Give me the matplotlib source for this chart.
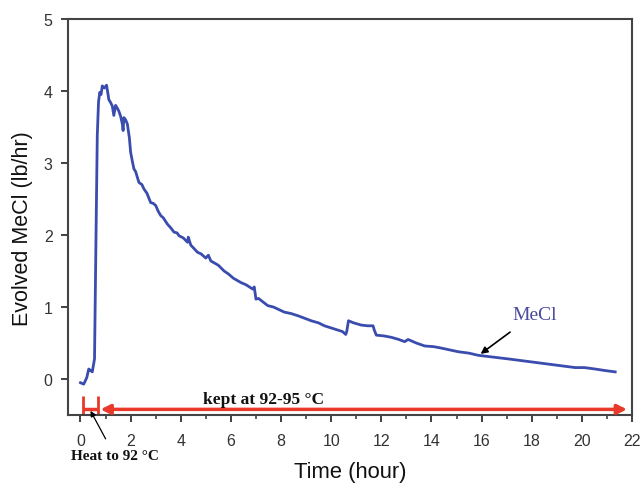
import matplotlib
matplotlib.use("Agg")
import matplotlib.pyplot as plt
from matplotlib.ticker import MultipleLocator

# ---- data ----
time_h = [0.00, 0.13, 0.25, 0.33, 0.40, 0.47, 0.56, 0.62, 0.67, 0.72, 0.77, 0.82, 0.87, 0.95,
          1.04, 1.10, 1.13, 1.20, 1.27, 1.33, 1.40, 1.47, 1.53, 1.60, 1.67, 1.70, 1.73, 1.80,
          1.87, 1.95, 2.00, 2.07, 2.13, 2.20, 2.33, 2.45, 2.53, 2.65, 2.80, 2.90, 3.00, 3.10,
          3.20, 3.30, 3.47, 3.60, 3.73, 3.85, 3.93, 4.10, 4.27, 4.30, 4.40, 4.67, 4.80, 5.00,
          5.10, 5.20, 5.40, 5.50, 5.73, 5.90, 6.10, 6.40, 6.60, 6.87, 6.93, 7.00, 7.10, 7.47,
          7.70, 8.13, 8.40, 8.67, 8.90, 9.20, 9.50, 9.73, 10.00, 10.27, 10.45, 10.58, 10.62,
          10.69, 10.90, 11.20, 11.45, 11.67, 11.72, 11.80, 12.10, 12.40, 12.70, 12.93, 13.07,
          13.40, 13.73, 14.10, 14.40, 14.80, 15.07, 15.50, 15.87, 17.07, 18.40, 19.73, 20.10,
          20.53, 20.90, 21.33]
mecl_lb_hr = [-0.05, -0.07, 0.02, 0.14, 0.12, 0.10, 0.28, 2.00, 3.38, 3.85, 3.98, 3.95, 4.07, 4.04,
              4.08, 3.95, 3.88, 3.84, 3.79, 3.66, 3.80, 3.76, 3.72, 3.65, 3.54, 3.45, 3.63, 3.60,
              3.54, 3.35, 3.15, 3.02, 2.92, 2.88, 2.73, 2.70, 2.64, 2.58, 2.45, 2.44, 2.41, 2.33,
              2.27, 2.24, 2.15, 2.10, 2.04, 2.03, 1.99, 1.96, 1.90, 1.97, 1.86, 1.76, 1.74, 1.68,
              1.72, 1.64, 1.60, 1.58, 1.50, 1.46, 1.40, 1.34, 1.31, 1.25, 1.28, 1.11, 1.12, 1.02,
              1.00, 0.93, 0.91, 0.88, 0.85, 0.81, 0.78, 0.74, 0.71, 0.68, 0.66, 0.62, 0.66,
              0.81, 0.78, 0.75, 0.74, 0.74, 0.68, 0.61, 0.60, 0.58, 0.55, 0.52, 0.55,
              0.50, 0.46, 0.45, 0.43, 0.40, 0.38, 0.36, 0.33, 0.28, 0.22, 0.16, 0.16,
              0.14, 0.12, 0.10]

x_ticks = [0, 2, 4, 6, 8, 10, 12, 14, 16, 18, 20, 22]
y_ticks = [0, 1, 2, 3, 4, 5]

heat_start, heat_end = 0.1, 0.7      # heating period (hour)
kept_start, kept_end = 0.8, 21.8     # holding period (hour)
band_y = -0.42

plt.rcParams['font.family'] = ['Liberation Sans', 'DejaVu Sans']

fig = plt.figure(figsize=(6.41, 4.85), dpi=100)
ax = fig.add_axes([0.106, 0.142, 0.880, 0.817])

blue = '#3a4cae'
red = '#e8392a'
dark = '#333333'

ax.plot(time_h, mecl_lb_hr, color=blue, lw=2.0)

ax.set_xlim(-0.5, 22)
ax.set_ylim(-0.5, 5)
ax.set_xticks(x_ticks)
ax.set_yticks(y_ticks)
ax.xaxis.set_minor_locator(MultipleLocator(1))
ax.tick_params(axis='both', which='major', direction='out', length=5, width=1.3,
               labelsize=11.5, colors=dark)
ax.tick_params(axis='x', which='major', pad=8)
ax.tick_params(axis='y', which='major', pad=6)
ax.tick_params(axis='x', which='minor', direction='out', length=3, width=1.1, colors=dark)
for s in ax.spines.values():
    s.set_linewidth(1.5)
    s.set_color('#444444')

ax.set_xlabel('Time (hour)', fontsize=15.8, color='#111111')
ax.set_ylabel('Evolved MeCl (lb/hr)', fontsize=15.5, color='#111111')
ax.xaxis.set_label_coords(0.5, -0.117)
ax.yaxis.set_label_coords(-0.062, 0.473)

# heating segment with caps
ax.plot([heat_start, heat_end], [band_y, band_y], color=red, lw=2.5, solid_capstyle='butt')
ax.vlines([heat_start, heat_end], band_y - 0.08, band_y + 0.18, color=red, lw=2.0)

# kept period double arrow
ax.annotate('', xy=(kept_end, band_y), xytext=(kept_start, band_y),
            arrowprops=dict(arrowstyle='<|-|>', color=red, lw=2.5, mutation_scale=14,
                            shrinkA=0, shrinkB=0))

ax.text(7.3, -0.28, 'kept at 92-95 \u00b0C', fontsize=12.5, fontweight='bold',
        family='Liberation Serif', ha='center', va='center', color='#111111')

ax.annotate('Heat to 92 \u00b0C', xy=(0.4, -0.44), xytext=(1.36, -1.06),
            fontsize=11, fontweight='bold', family='Liberation Serif',
            ha='center', va='center', color='#111111', annotation_clip=False,
            arrowprops=dict(arrowstyle='-|>', color='black', lw=0.9, mutation_scale=8,
                            shrinkA=6, shrinkB=0))

ax.annotate('MeCl', xy=(15.96, 0.35), xytext=(18.1, 0.9),
            fontsize=14, family='Liberation Serif', color='#4a4a9e',
            ha='center', va='center',
            arrowprops=dict(arrowstyle='-|>', color='black', lw=1.2, mutation_scale=10,
                            shrinkA=8, shrinkB=0))

fig.savefig('out.png', dpi=100)
